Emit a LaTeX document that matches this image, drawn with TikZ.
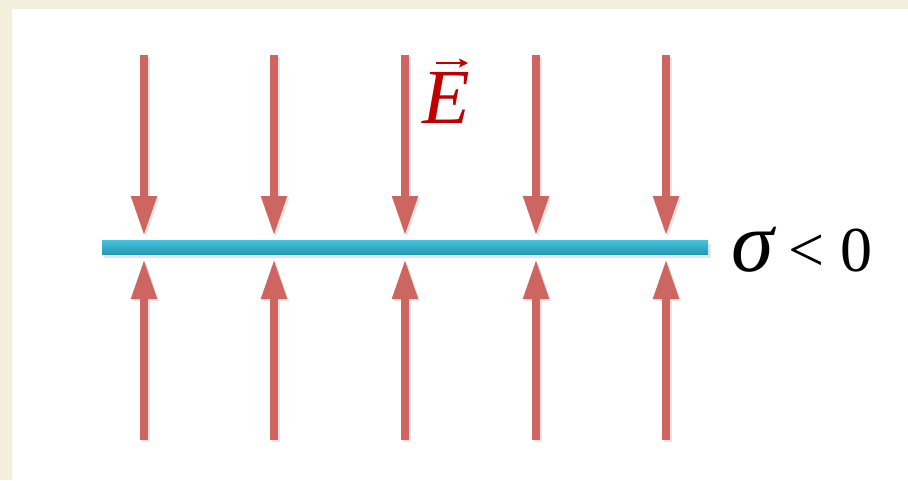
\documentclass[tikz,border=0pt]{standalone}
\usepackage{fontspec}
\setmainfont{Liberation Serif}
\usetikzlibrary{arrows.meta}
\definecolor{beige}{RGB}{244,238,220}
\definecolor{fieldred}{RGB}{205,102,96}
\definecolor{ered}{RGB}{192,0,0}
\definecolor{bartop}{RGB}{66,196,222}
\definecolor{barbot}{RGB}{40,150,178}
\tikzset{
  fieldline/.style={draw=fieldred, line width=8pt, -{Triangle[length=40pt,width=24pt]}},
  fieldshadow/.style={draw=black!10, line width=8pt, -{Triangle[length=40pt,width=24pt]}},
}
\begin{document}
\begin{tikzpicture}[x=1pt,y=-1pt]
\useasboundingbox (0,0) rectangle (908,480);
\fill[beige] (0,0) rectangle (908,480);
\fill[white] (12,9) rectangle (908,480);
% shadow of bar
\fill[black!10] (104,244) rectangle (711,258);
% charged sheet
\shade[top color=bartop, bottom color=barbot] (102,240) rectangle (708,254);
\coordinate (bl) at (102,247);
\coordinate (br) at (708,247);
\foreach \i/\x in {1/144,2/274,3/405,4/536,5/666}{
  \coordinate (t\i) at (\x,55);
  \coordinate (tt\i) at (\x,236);
  \coordinate (b\i) at (\x,440);
  \coordinate (bt\i) at (\x,259);
  \draw[fieldshadow] ([shift={(2,2)}]t\i) -- ([shift={(2,2)}]tt\i);
  \draw[fieldshadow] ([shift={(2,2)}]b\i) -- ([shift={(2,2)}]bt\i);
  \draw[fieldline] (t\i) -- (tt\i);
  \draw[fieldline] (b\i) -- (bt\i);
}
\node[anchor=base, text=ered, inner sep=0pt, font=\fontsize{78}{80}\selectfont\itshape] (E) at (446,123) {E};
\draw[ered, line width=2pt, -{Stealth[length=9pt,width=9pt,inset=2pt]}] (436,63) -- (468,63);
\node[anchor=base west, inner sep=0pt, font=\fontsize{64}{70}\selectfont] (sigma) at (731,271) {{\fontsize{86}{90}\selectfont\textit{σ}}\hspace{-4pt} < 0};
\end{tikzpicture}
\end{document}
